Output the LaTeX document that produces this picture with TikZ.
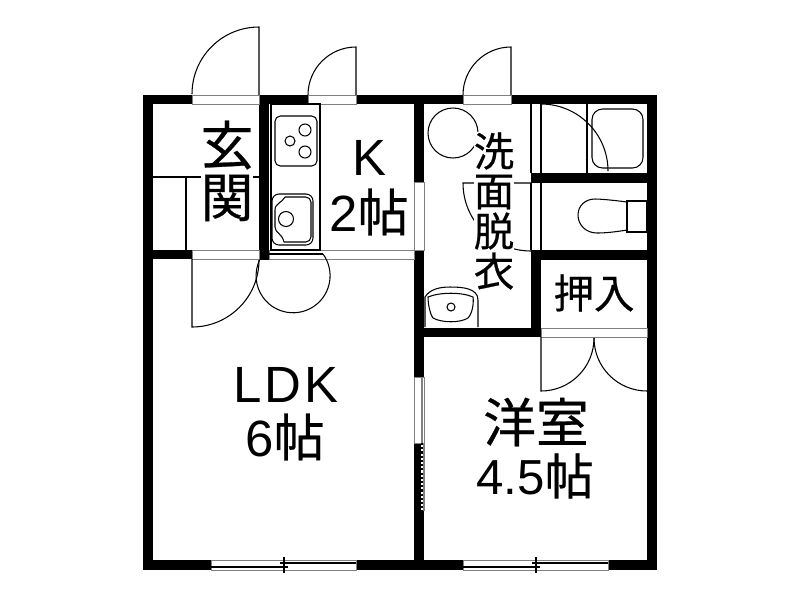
\documentclass[tikz,border=0pt]{standalone}
\usepackage{fontspec}
\setmainfont{Liberation Sans}
\newfontfamily\cjk[FakeBold=0.5]{Noto Sans CJK JP}
\usetikzlibrary{positioning}
\begin{document}
\begin{tikzpicture}[x=0.02cm, y=-0.02cm,
    wall/.style={fill=black, draw=none},
    thinline/.style={draw=black, line width=0.6pt},
    opening/.style={fill=white, draw=black!50, line width=0.4pt},
    label/.style={inner sep=0pt, font=\fontsize{29}{30}\selectfont},
    jplabel/.style={inner sep=0pt, fill=white, font=\fontsize{30}{30}\selectfont\cjk},
    jpsmall/.style={inner sep=0pt, fill=white, font=\fontsize{23}{24}\selectfont\cjk}]
    \useasboundingbox (0,0) rectangle (800,600);
    % 壁
    \foreach \xa/\ya/\xb/\yb in {143/95/657/104, 143/95/153/570, 647/95/657/570, 143/560/657/570,
        259/95/269/260, 143/250/269/259, 414/95/424/560, 531/173/657/183, 531/250/657/260,
        531/250/541/337, 414/328/541/337} {
        \fill[wall] (\xa,\ya) rectangle (\xb,\yb);
    }
    % 開口
    \foreach \xa/\ya/\xb/\yb in {192/95/259/104, 308/95/356/104, 463/95/511/104, 192/250/259/259,
        269/250/414/259, 414/182/424/250, 414/377/424/443, 541/328/647/337, 211/560/356/570, 463/560/608/570} {
        \draw[opening] (\xa,\ya) rectangle (\xb,\yb);
    }
    % 引き戸
    \fill[white] (421,443) rectangle (424,511);
    \draw[draw=black!50, line width=0.6pt] (424,443) -- (424,511);
    \draw[draw=black!50, line width=1.2pt] (422,377) -- (422,443);
    \draw[dash pattern=on 1.2pt off 1.2pt, line width=1.2pt] (422,443) -- (422,511);
    \draw[thinline] (269,254) -- (323,254);
    % 掃き出し窓
    \foreach \xa/\xm/\xb in {211/284/356, 463/536/608} {
        \draw[thinline] (\xa,567) -- (\xm+4,567) (\xm-4,563) -- (\xb,563);
        \draw[thinline] (\xm,557) -- (\xm,573);
    }
    % 玄関の框
    \draw[thinline] (153,177) -- (259,177) (186,177) -- (186,250);
    % ドア
    \draw[thinline] (259,95) -- (259,27) arc[start angle=-90, end angle=-180, radius=67];
    \draw[thinline] (356,95) -- (356,47) arc[start angle=-90, end angle=-180, radius=48];
    \draw[thinline] (511,95) -- (511,47) arc[start angle=-90, end angle=-180, radius=48];
    \draw[thinline] (192,259) -- (192,327) arc[start angle=90, end angle=0, radius=67];
    \draw[thinline] (323,254) arc[start angle=-36, end angle=206, radius=37];
    \draw[thinline] (541,337) -- (541,391) arc[start angle=90, end angle=0, radius=53];
    \draw[thinline] (647,391) arc[start angle=90, end angle=180, radius=53];
    \draw[thinline] (531,183) -- (463,183) arc[start angle=180, end angle=90, radius=68];
    \draw[thinline] (541,104) arc[start angle=-90, end angle=0, radius=67];
    % 浴室と便所の仕切り
    \draw[thinline] (531,104) -- (531,173) (541,104) -- (541,173) (531,183) -- (531,250) (541,183) -- (541,250);
    \draw[thinline] (587,104) -- (587,173);
    \draw[thinline, rounded corners=6pt] (592,109) rectangle (643,168);
    % 便器
    \draw[thinline] (627,201) rectangle (647,232);
    \draw[thinline] (627,202) .. controls (612,200) and (600,199) .. (595,199)
        .. controls (585,199) and (578,206) .. (578,215)
        .. controls (578,225) and (586,233) .. (597,233)
        .. controls (605,233) and (615,232) .. (627,230);
    % 洗濯機
    \draw[thinline] (453,133) circle (25);
    % 洗面台
    \draw[thinline] (425,327) -- (425,297) .. controls (430,289) and (440,287) .. (450,287)
        .. controls (462,287) and (478,288) .. (478,300) -- (478,327);
    \draw[thinline] (428,297) .. controls (440,292) and (462,292) .. (473,297)
        .. controls (474,304) and (472,314) .. (468,318)
        .. controls (460,323) and (442,323) .. (433,318)
        .. controls (430,314) and (428,304) .. (428,297) -- cycle;
    \draw[thinline] (451,307) circle (4);
    % 台所
    \draw[thinline] (271,104) rectangle (320,250);
    \draw[thinline, rounded corners=3pt] (275,116) rectangle (317,166);
    \foreach \cx/\cy/\r in {305/130/6, 290/141/5, 305/152/6} {
        \draw[thinline] (\cx,\cy) circle (\r);
    }
    \draw[thinline, rounded corners=4pt] (272,194) rectangle (313,245);
    \draw[thinline, rounded corners=3pt] (285,197) -- (311,197) -- (311,242) -- (284,242);
    \draw[thinline] (285,197) .. controls (282,203) and (275,203) .. (275,210) -- (275,227)
        .. controls (275,233) and (282,233) .. (284,242);
    \draw[thinline] (286,219) circle (7.5);
    % 文字
    \node[jplabel] (gen) at (227,145) {玄};
    \node[jplabel] (kan) at (227,198) {関};
    \node[label] (kroom) at (369,158) {K};
    \node[label] (ksize) at (369,212) {2{\cjk 帖}};
    \node[label] (ldk) at (286,385) {L\kern1.5pt D\kern1.5pt K};
    \node[label] (ldksize) at (285,437) {6{\cjk 帖}};
    \node[jpsmall] (wa) at (494,151) {洗};
    \node[jpsmall] (men) at (494,192) {面};
    \node[jpsmall] (datsu) at (494,231) {脱};
    \node[jpsmall] (i) at (494,271) {衣};
    \node[jpsmall] (oshi) at (594,293) {押入};
    \node[jplabel] (you) at (536,422) {洋室};
    \node[label, font=\fontsize{28}{30}\selectfont] (yousize) at (535,476) {4.5{\cjk 帖}};
\end{tikzpicture}
\end{document}
